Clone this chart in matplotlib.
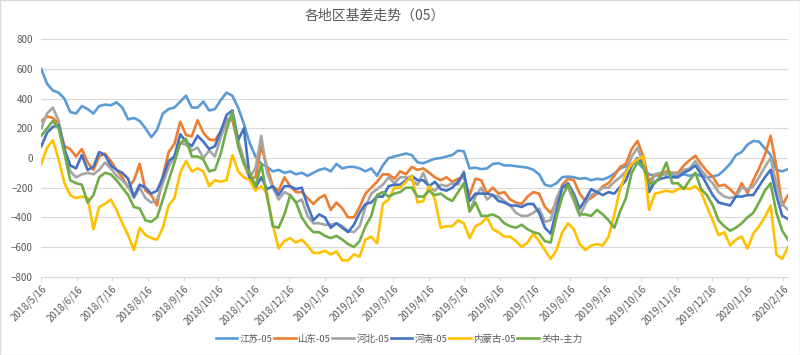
import pandas as pd
import matplotlib
matplotlib.use("Agg")
import matplotlib.pyplot as plt
from matplotlib.patches import Rectangle

plt.rcParams['font.family'] = ['Noto Sans CJK SC', 'DejaVu Sans']

# 数据：每5天取一个点（2018/5/16 起）
dates = pd.date_range('2018-05-16', periods=130, freq='5D')

jiangsu = [600, 500, 455, 440, 400, 310, 300, 350, 330, 300,
           350, 360, 355, 375, 340, 260, 270, 250, 200, 140,
           190, 300, 330, 340, 380, 420, 340, 340, 380, 320,
           330, 390, 440, 420, 340, 230, 100, 10, -40, -60,
           -90, -80, -100, -90, -110, -100, -120, -100, -80, -70,
           -90, -40, -70, -60, -60, -70, -90, -70, -120, -50,
           0, 10, 20, 30, 20, -30, -35, -20, -5, 0,
           10, 20, 50, 45, -70, -65, -75, -70, -40, -35,
           -50, -50, -55, -60, -65, -80, -110, -180, -190, -170,
           -130, -125, -130, -140, -135, -150, -140, -145, -130, -105,
           -70, -55, -40, -30, -70, -110, -120, -110, -110, -110,
           -120, -110, -120, -110, -120, -130, -125, -115, -80, -40,
           20, 40, 90, 115, 110, 65, 20, -80, -90, -75]

shandong = [250, 280, 270, 230, 80, 60, 10, 60, -30, -80,
            10, 30, -20, -80, -130, -200, -150, -40, -220, -250,
            -320, -120, 40, 95, 245, 155, 145, 255, 170, 125,
            120, 180, 265, 255, 100, -30, -140, -130, 80, -60,
            -190, -220, -130, -190, -230, -230, -270, -310, -270, -250,
            -350, -300, -340, -400, -400, -330, -240, -200, -160, -110,
            -110, -140, -90, -110, -60, -80, -70, -100, -130, -150,
            -130, -160, -140, -130, -250, -140, -150, -240, -200, -240,
            -230, -280, -300, -310, -260, -230, -240, -330, -370, -300,
            -180, -140, -150, -240, -290, -270, -240, -190, -170, -120,
            -60, -40, 60, 115, 10, -160, -110, -120, -90, -100,
            -100, -50, -15, 15, -40, -90, -125, -190, -180, -210,
            -250, -170, -235, -150, -70, 20, 150, -60, -320, -250]

hebei = [200, 300, 340, 250, 50, -90, -130, -110, -100, -110,
         -80, -30, -70, -120, -150, -190, -270, -200, -270, -300,
         -280, -170, -60, 10, 100, 90, 50, 70, 0, 50,
         10, 140, 245, 290, 120, -10, -130, -70, 150, -100,
         -200, -280, -230, -250, -300, -280, -390, -440, -440, -450,
         -450, -440, -460, -490, -500, -460, -330, -240, -210, -180,
         -130, -170, -130, -130, -150, -180, -100, -200, -220, -180,
         -190, -170, -180, -90, -360, -260, -200, -280, -250, -260,
         -290, -320, -370, -390, -390, -370, -340, -430, -420, -270,
         -190, -200, -290, -390, -310, -250, -230, -200, -200, -160,
         -130, -90, 10, 70, -40, -200, -110, -100, -110, -100,
         -110, -80, -70, -20, -80, -130, -170, -230, -260, -270,
         -260, -200, -210, -190, -130, -60, 0, -180, -310, -350]

henan = [80, 170, 210, 220, 60, -50, -70, 20, -80, -60,
         40, 20, -50, -80, -100, -140, -260, -180, -200, -240,
         -220, -130, -20, 10, 160, 110, 80, 150, 110, 60,
         80, 180, 290, 320, 120, 200, -130, -200, -130, -210,
         -190, -250, -190, -190, -210, -200, -320, -420, -380, -400,
         -470, -440, -470, -500, -450, -370, -310, -300, -260, -260,
         -190, -180, -180, -150, -120, -150, -150, -190, -160, -210,
         -220, -200, -160, -100, -290, -240, -240, -240, -250, -290,
         -300, -320, -320, -330, -310, -310, -370, -470, -510, -350,
         -200, -170, -240, -340, -280, -210, -230, -250, -230, -240,
         -195, -150, -50, 0, -40, -230, -160, -140, -130, -130,
         -130, -100, -80, -50, -110, -180, -250, -300, -310, -320,
         -260, -260, -250, -250, -190, -130, -80, -250, -390, -410]

neimenggu = [-40, 70, 120, -10, -170, -250, -270, -260, -270, -480,
             -330, -310, -280, -350, -440, -520, -620, -470, -520, -540,
             -550, -470, -320, -270, -100, -20, -90, -70, -90, -190,
             -150, -160, -150, 20, -90, -130, -150, -220, -190, -240,
             -450, -610, -560, -540, -570, -550, -590, -640, -640, -625,
             -650, -630, -690, -690, -650, -665, -550, -530, -575, -310,
             -280, -200, -200, -160, -120, -300, -290, -190, -280, -470,
             -460, -460, -420, -440, -540, -460, -440, -400, -480, -500,
             -530, -530, -560, -600, -570, -510, -560, -620, -680, -620,
             -500, -440, -480, -580, -620, -590, -580, -590, -530, -380,
             -210, -100, -40, -10, 10, -350, -240, -230, -220, -230,
             -210, -200, -210, -190, -230, -330, -420, -520, -500, -590,
             -550, -530, -610, -510, -460, -400, -320, -650, -680, -600]

guanzhong = [150, 200, 250, 200, 30, -150, -170, -180, -300, -250,
             -130, -100, -110, -150, -200, -250, -330, -340, -420, -430,
             -400, -280, -150, -30, 100, 130, 10, 10, -10, -90,
             -80, 30, 190, 310, 80, -40, -100, -190, -40, -260,
             -460, -470, -380, -250, -300, -400, -460, -500, -500, -525,
             -540, -525, -550, -580, -600, -560, -460, -390, -250, -230,
             -260, -240, -230, -200, -200, -260, -260, -220, -250, -240,
             -270, -290, -230, -170, -360, -300, -390, -390, -380, -400,
             -440, -460, -470, -450, -480, -500, -510, -560, -570, -400,
             -260, -180, -260, -380, -380, -390, -350, -380, -420, -470,
             -360, -270, -100, -30, -50, -170, -170, -120, -30, -170,
             -170, -210, -150, -100, -210, -250, -320, -420, -460, -490,
             -470, -440, -400, -370, -300, -220, -170, -370, -490, -550]

series = [
    ('江苏-05', jiangsu, '#5B9BD5'),
    ('山东-05', shandong, '#ED7D31'),
    ('河北-05', hebei, '#A5A5A5'),
    ('河南-05', henan, '#4472C4'),
    ('内蒙古-05', neimenggu, '#FFC000'),
    ('关中-主力', guanzhong, '#70AD47'),
]

fig = plt.figure(figsize=(8, 3.55), dpi=100)
ax = fig.add_axes([41.3 / 800, 1 - 276.7 / 355, (788 - 41.3) / 800, (276.7 - 39.3) / 355])

for name, vals, color in series:
    ax.plot(dates, vals, color=color, lw=1.9, label=name, solid_joinstyle='round')

ax.set_ylim(-800, 800)
ax.set_yticks(range(-800, 801, 200))
ax.set_xlim(pd.Timestamp('2018-05-16'), pd.Timestamp('2020-02-20'))

# 每月16日一个刻度
ticks = pd.date_range('2018-05-01', '2020-02-01', freq='MS') + pd.Timedelta(days=15)
ax.set_xticks(ticks)
ax.set_xticklabels([f"{d.year}/{d.month}/{d.day}" for d in ticks],
                   rotation=45, ha='right', va='top', rotation_mode='anchor')

ax.grid(axis='y', color='#D9D9D9', lw=0.8)
ax.set_axisbelow(True)
for s in ['top', 'right', 'left']:
    ax.spines[s].set_visible(False)
ax.spines['bottom'].set_color('#D9D9D9')
ax.tick_params(axis='y', length=0, labelsize=7, labelcolor='#595959', pad=6)
ax.tick_params(axis='x', length=3, color='#D9D9D9', labelsize=7, labelcolor='#595959', pad=2)

fig.text(375 / 800, 1 - 16 / 355, '各地区基差走势（05）', ha='center', va='center',
         fontsize=10, color='#595959')

fig.legend(loc='center', bbox_to_anchor=(399 / 800, 1 - 339 / 355), ncol=6, frameon=False,
           fontsize=6.8, handlelength=2.3, handletextpad=0.25, columnspacing=0.15,
           labelcolor='#595959')

fig.patches.append(Rectangle((0, 0), 1, 1, transform=fig.transFigure, fill=False,
                             edgecolor='#D9D9D9', lw=1))

fig.savefig('out.png', dpi=100)
